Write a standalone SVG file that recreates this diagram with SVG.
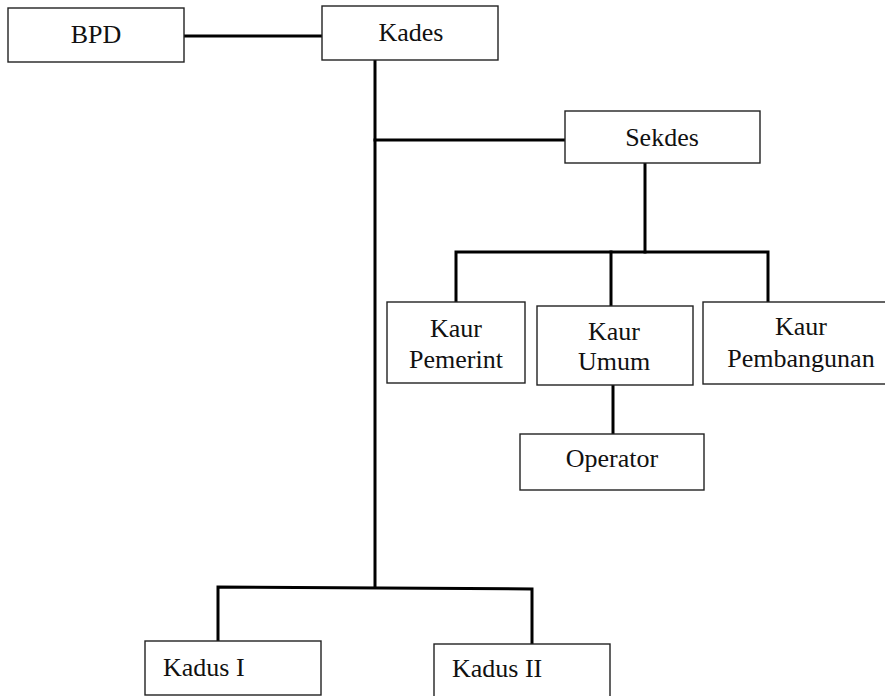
<svg xmlns="http://www.w3.org/2000/svg" width="885" height="696" viewBox="0 0 885 696">
<style>
.box{fill:#fff;stroke:#222;stroke-width:1.4}
.t{font-family:"Liberation Serif","Times New Roman",serif;font-size:26px;fill:#111}
.c{text-anchor:middle}
.ln{fill:none;stroke:#000;stroke-width:3;stroke-linecap:square;stroke-linejoin:miter}
</style>
<rect width="885" height="696" fill="#fff"/>
<g id="connectors">
<line class="ln" x1="184" y1="36" x2="322" y2="36"/>
<line class="ln" x1="375" y1="61" x2="375" y2="587"/>
<line class="ln" x1="375" y1="140" x2="565" y2="140"/>
<line class="ln" x1="645" y1="164" x2="645" y2="252"/>
<polyline class="ln" points="456,301 456,252 768,252 768,301"/>
<line class="ln" x1="611" y1="252" x2="611" y2="305"/>
<line class="ln" x1="613" y1="386" x2="613" y2="433"/>
<polyline class="ln" points="218,640 218,587 532,589 532,643"/>
</g>
<g id="bpd">
<rect class="box" x="8" y="8" width="176" height="54"/>
<text class="t c" x="96" y="43">BPD</text>
</g>
<g id="kades">
<rect class="box" x="322" y="6" width="176" height="54"/>
<text class="t c" x="411" y="41">Kades</text>
</g>
<g id="sekdes">
<rect class="box" x="565" y="111" width="195" height="52"/>
<text class="t c" x="662" y="146">Sekdes</text>
</g>
<g id="kaur-pemerint">
<rect class="box" x="387" y="302" width="138" height="81"/>
<text class="t c" x="456" y="337">Kaur</text>
<text class="t c" x="456" y="368">Pemerint</text>
</g>
<g id="kaur-umum">
<rect class="box" x="537" y="306" width="156" height="79"/>
<text class="t c" x="614" y="340">Kaur</text>
<text class="t c" x="614" y="370">Umum</text>
</g>
<g id="kaur-pembangunan">
<rect class="box" x="703" y="302" width="190" height="82"/>
<text class="t c" x="801" y="335">Kaur</text>
<text class="t c" x="801" y="367">Pembangunan</text>
</g>
<g id="operator">
<rect class="box" x="520" y="434" width="184" height="56"/>
<text class="t c" x="612" y="467">Operator</text>
</g>
<g id="kadus-i">
<rect class="box" x="145" y="641" width="176" height="54"/>
<text class="t" x="163" y="676">Kadus I</text>
</g>
<g id="kadus-ii">
<rect class="box" x="434" y="644" width="176" height="60"/>
<text class="t" x="452" y="677">Kadus II</text>
</g>
</svg>
